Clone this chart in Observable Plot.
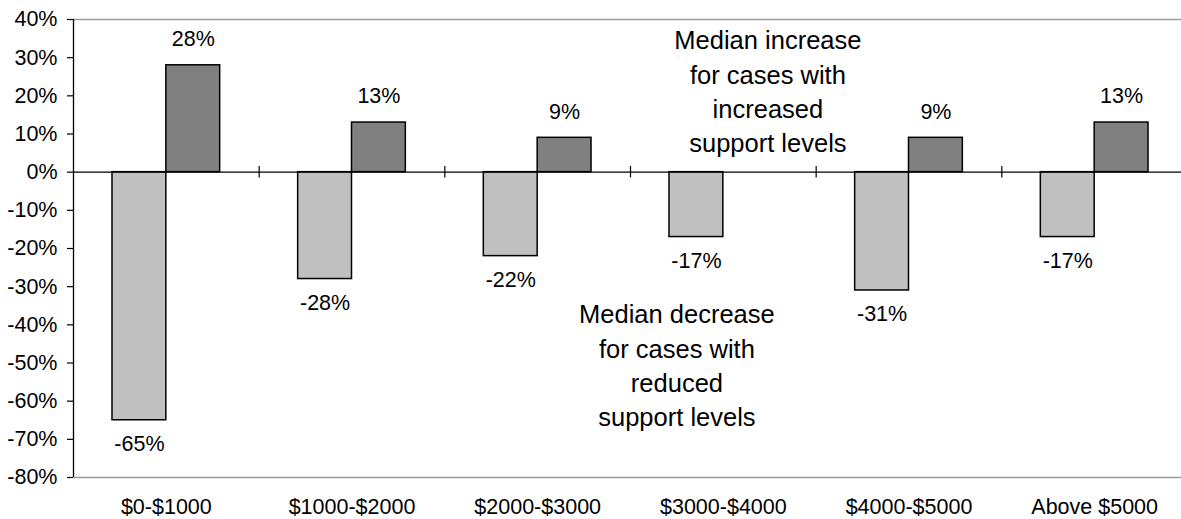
<!DOCTYPE html>
<html>
<head>
<meta charset="utf-8">
<script src="https://cdn.jsdelivr.net/npm/d3@7"></script>
<script src="https://cdn.jsdelivr.net/npm/@observablehq/plot@0.6"></script>
<style>
  html, body { margin: 0; padding: 0; background: #fff; overflow: hidden; }
  #chart svg { display: block; max-width: none; font-family: "Liberation Sans", Arial, sans-serif; }
</style>
</head>
<body>
<div id="chart"></div>
<script>
// Support-level ranges and the median change within each range
const categories = ["$0-$1000", "$1000-$2000", "$2000-$3000", "$3000-$4000", "$4000-$5000", "Above $5000"];
const decrease = [-65, -28, -22, -17, -31, -17];
const increase = [28, 13, 9, null, 9, 13];
const yTicks = [-80, -70, -60, -50, -40, -30, -20, -10, 0, 10, 20, 30, 40];

const barW = 0.29; // bar width as a fraction of one category slot

const dec = categories.map((c, i) => ({i, value: decrease[i]}));
const inc = categories.map((c, i) => ({i, value: increase[i]})).filter(d => d.value != null);
const bounds = d3.range(1, categories.length);

const fontFamily = '"Liberation Sans", Arial, sans-serif';
const labelSize = 21.5;
const noteSize = 25.5;

const chart = Plot.plot({
  width: 1200,
  height: 519,
  marginLeft: 73,
  marginRight: 13,
  marginTop: 19,
  marginBottom: 42,
  style: {fontFamily, fontSize: labelSize + "px", color: "#000", background: "#fff", maxWidth: "none"},
  x: {domain: [0, categories.length], axis: null},
  y: {domain: [-80, 40], axis: null},
  marks: [
    // frame lines above and below the plotting area
    Plot.ruleY([40, -80], {stroke: "#9a9a9a", strokeWidth: 1.5}),
    // bars
    Plot.rectY(dec, {x1: d => d.i + 0.5 - barW, x2: d => d.i + 0.5, y1: 0, y2: "value",
      fill: "#c0c0c0", stroke: "#000", strokeWidth: 1.5}),
    Plot.rectY(inc, {x1: d => d.i + 0.5, x2: d => d.i + 0.5 + barW, y1: 0, y2: "value",
      fill: "#808080", stroke: "#000", strokeWidth: 1.5}),
    // zero line with category-boundary ticks
    Plot.ruleY([0], {stroke: "#000", strokeWidth: 1.3}),
    Plot.ruleX(bounds, {y1: -1.5, y2: 1.5, stroke: "#000", strokeWidth: 1.2}),
    // value axis
    Plot.ruleX([0], {stroke: "#000", strokeWidth: 1.3}),
    Plot.axisY({ticks: yTicks, tickFormat: d => d + "%", tickSize: 6, tickPadding: 10,
      label: null, stroke: "#000", strokeWidth: 1.2, fontSize: labelSize}),
    // category labels
    Plot.axisX({ticks: categories.map((c, i) => i + 0.5), tickFormat: (d, k) => categories[k],
      label: null, tickSize: 0, tickPadding: 21, fontSize: labelSize}),
    // value labels
    Plot.text(dec, {x: d => d.i + 0.5 - barW / 2, y: "value", text: d => d.value + "%",
      dy: 24, fontSize: labelSize, fill: "#000"}),
    Plot.text(inc, {x: d => d.i + 0.5 + barW / 2, y: "value", text: d => d.value + "%",
      dy: -26, fontSize: labelSize, fill: "#000"}),
    // explanatory notes
    Plot.text(["Median increase\nfor cases with\nincreased\nsupport levels"],
      {x: 3.74, y: 21.6, text: d => d, fontSize: noteSize, lineHeight: 1.34, fill: "#000"}),
    Plot.text(["Median decrease\nfor cases with\nreduced\nsupport levels"],
      {x: 3.25, y: -50.2, text: d => d, fontSize: noteSize, lineHeight: 1.34, fill: "#000"})
  ]
});

document.getElementById("chart").appendChild(chart);
</script>
</body>
</html>
